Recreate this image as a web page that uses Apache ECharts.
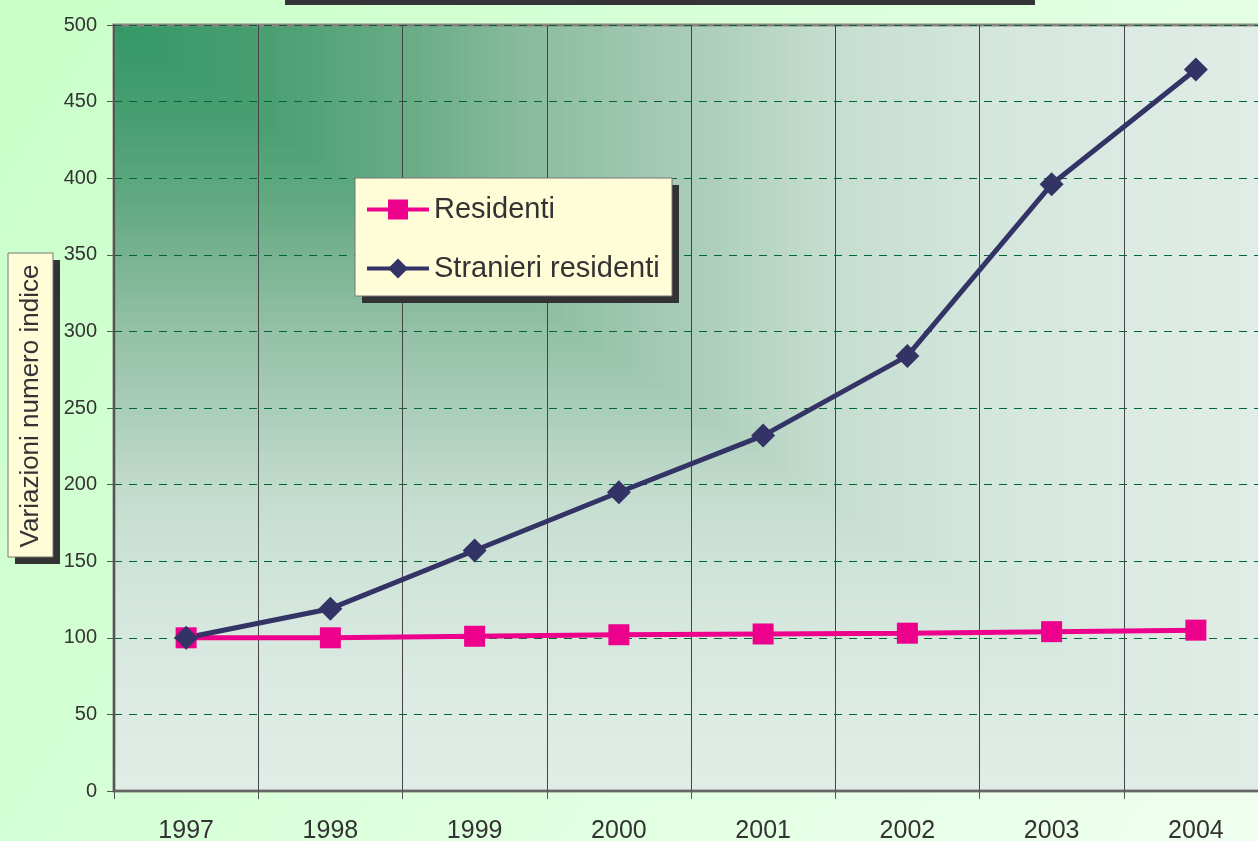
<!DOCTYPE html>
<html>
<head>
<meta charset="utf-8">
<script src="https://cdn.jsdelivr.net/npm/echarts@6/dist/echarts.min.js"></script>
<style>
  html, body { margin: 0; padding: 0; overflow: hidden; }
  /* il riquadro del grafico esce a destra di 10px, come nell'originale */
  #chart-box { width: 1268px; height: 841px; }
</style>
</head>
<body>
<div id="chart-box"></div>
<script>
// dati
var years = ['1997', '1998', '1999', '2000', '2001', '2002', '2003', '2004'];
var residenti = [100, 100, 101, 102, 102.5, 103, 104, 105];
var stranieri = [100, 119, 157, 195, 232, 284, 396, 471];
var seriesNames = ['Residenti', 'Stranieri residenti'];
var yAxisTitle = 'Variazioni numero indice';

var fontName = '"Liberation Sans", Arial, sans-serif';

// sfondo dell'area del grafico: sfumatura "rettangolare" dall'angolo in alto a sinistra
var plot = { x: 114, y: 25, w: 1154, h: 766 };
var shadeColors = ['#339865', '#479e70', '#66ab84', '#8dbda1', '#a9ccb9', '#c5ddd0', '#d3e6dc', '#dbeae2', '#e0ede7'];
var shadeSteps = 120;

function buildShade() {
  var list = [];
  for (var i = shadeSteps; i >= 1; i--) {
    var t = i / shadeSteps;
    list.push({
      type: 'rect',
      z: -10,
      silent: true,
      shape: { x: plot.x, y: plot.y, width: plot.w * t, height: plot.h * t },
      style: { fill: echarts.color.lerp(t, shadeColors) }
    });
  }
  return list;
}

var chartObj = echarts.init(document.getElementById('chart-box'));

var graphics = buildShade().concat([
  { type: 'rect', shape: { x: 285, y: -6, width: 750, height: 11 }, style: { fill: '#333338' } },
  // riquadro titolo asse y
  { type: 'rect', z: 3, shape: { x: 15, y: 260, width: 45, height: 304 }, style: { fill: '#333' } },
  { type: 'rect', z: 3, shape: { x: 8, y: 253, width: 45, height: 304 }, style: { fill: '#fffcd8', stroke: '#777', lineWidth: 1 } },
  {
    type: 'text', z: 4, x: 31, y: 406, rotation: Math.PI / 2,
    style: {
      text: yAxisTitle, x: 0, y: 0,
      textAlign: 'center', textVerticalAlign: 'middle',
      fontSize: 26, fontFamily: fontName, fill: '#333'
    }
  },
  // riquadro legenda
  { type: 'rect', z: 3, shape: { x: 362, y: 185, width: 317, height: 118 }, style: { fill: '#333' } },
  { type: 'rect', z: 3, shape: { x: 355, y: 178, width: 317, height: 118 }, style: { fill: '#fffcd8', stroke: '#777', lineWidth: 1 } }
]);

var option = {
  backgroundColor: {
    type: 'linear', x: 0, y: 0, x2: 1, y2: 1,
    colorStops: [
      { offset: 0, color: '#c8ffc8' },
      { offset: 1, color: '#f0fff0' }
    ]
  },
  textStyle: { fontFamily: fontName },
  grid: {
    left: plot.x,
    top: plot.y,
    right: 0,
    height: plot.h,
    outerBoundsMode: 'none',
    containLabel: false,
    show: true,
    backgroundColor: 'transparent',
    borderColor: '#8a8580',
    borderWidth: 3
  },
  legend: {
    orient: 'vertical',
    left: 355,
    top: 178,
    z: 5,
    padding: [17, 10, 14, 10],
    itemWidth: 62,
    itemHeight: 25,
    itemGap: 30,
    lineStyle: { width: 4 },
    textStyle: { fontSize: 29, color: '#333', fontFamily: fontName },
    data: seriesNames
  },
  xAxis: {
    type: 'category',
    data: years,
    boundaryGap: true,
    axisLine: { lineStyle: { color: '#666', width: 2 } },
    axisTick: { show: true, length: 8, lineStyle: { color: '#555' } },
    axisLabel: { fontSize: 25, color: '#333', margin: 28, interval: 0 },
    splitLine: { show: true, interval: 0, lineStyle: { color: '#444', width: 1 } }
  },
  yAxis: {
    type: 'value',
    min: 0,
    max: 500,
    interval: 50,
    axisLine: { show: true, lineStyle: { color: '#555', width: 2 } },
    axisTick: { show: true, length: 7, lineStyle: { color: '#555' } },
    axisLabel: { fontSize: 20, color: '#333', margin: 17 },
    splitLine: { lineStyle: { color: '#006633', type: [8, 7], width: 1 } }
  },
  graphic: graphics,
  series: [
    {
      name: seriesNames[0],
      type: 'line',
      data: residenti,
      symbol: 'rect',
      symbolSize: 21,
      lineStyle: { color: '#ec008c', width: 5 },
      itemStyle: { color: '#ec008c' }
    },
    {
      name: seriesNames[1],
      type: 'line',
      data: stranieri,
      symbol: 'diamond',
      symbolSize: 24,
      lineStyle: { color: '#333366', width: 5 },
      itemStyle: { color: '#333366' }
    }
  ]
};

chartObj.setOption(option);
</script>
</body>
</html>
